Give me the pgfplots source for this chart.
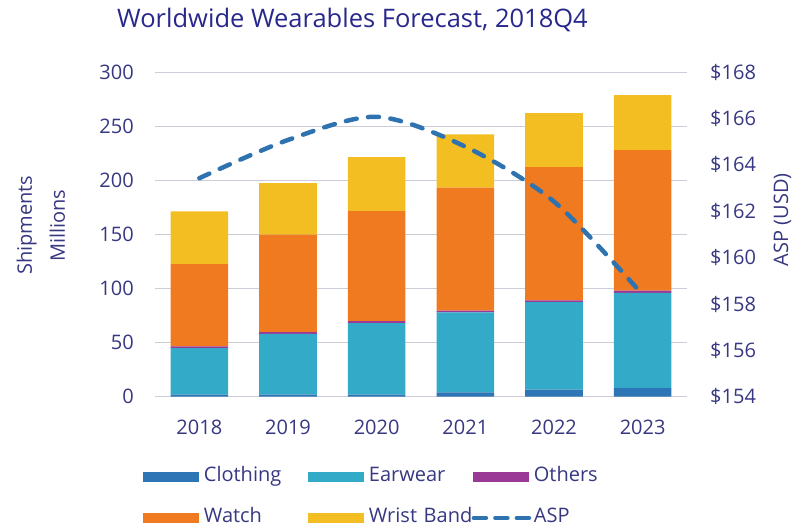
\documentclass[border=0pt]{standalone}
\usepackage{pgfplots}
\pgfplotsset{compat=1.18}
\usepackage{fontspec}
\setmainfont{Open Sans}
\definecolor{txt}{RGB}{55,55,130}
\definecolor{ttl}{RGB}{40,40,140}
\definecolor{cloth}{RGB}{46,117,182}
\definecolor{ear}{RGB}{50,170,200}
\definecolor{oth}{RGB}{155,58,150}
\definecolor{watch}{RGB}{240,122,32}
\definecolor{wrist}{RGB}{242,190,34}
\definecolor{asp}{RGB}{46,115,175}
\definecolor{grd}{RGB}{205,205,215}
\newcommand{\lbl}{\fontsize{20bp}{24bp}\selectfont}
\begin{document}
\begin{tikzpicture}
\useasboundingbox (-155bp,-134.3bp) rectangle (637bp,396.7bp);
\begin{axis}[
  at={(0,0)}, anchor=south west,
  scale only axis, width=532bp, height=324.4bp,
  xmin=-0.5, xmax=5.5, ymin=0, ymax=300,
  ybar stacked, bar width=0.65,
  xtick={0,...,5}, xticklabels={2018,2019,2020,2021,2022,2023},
  ytick={0,50,...,300},
  major tick length=0pt,
  axis line style={draw=none},
  ymajorgrids, grid style={grd, line width=1.2bp},
  tick label style={font=\lbl, text=txt},
  /pgf/number format/assume math mode=true,
  xticklabel style={anchor=base, yshift=-38bp},
  yticklabel style={anchor=east, inner xsep=0pt, xshift=-21bp},
  legend columns=3,
  legend cell align=left,
  legend style={draw=none, fill=none,
    at={(axis description cs:-0.0231,-0.3107)}, anchor=west,
    inner sep=0pt, row sep=21bp, font=\lbl, text=txt,
    nodes={inner sep=0pt, text width=104bp, align=left, text height=15bp, text depth=5bp, text=txt},
    /tikz/every odd column/.append style={column sep=5bp}},
  legend image code/.code={\fill[#1] (0bp,-5bp) rectangle (56bp,5bp);},
]
\addplot[fill=cloth, draw=none] coordinates {(0,2)(1,2)(2,2)(3,4)(4,6.5)(5,8)};
\addlegendentry{Clothing}
\addplot[fill=ear, draw=none] coordinates {(0,43)(1,56)(2,66)(3,74)(4,81)(5,88)};
\addlegendentry{Earwear}
\addplot[fill=oth, draw=none] coordinates {(0,1.5)(1,1.8)(2,2)(3,1.5)(4,1.5)(5,2)};
\addlegendentry{Others}
\addplot[fill=watch, draw=none] coordinates {(0,76)(1,90)(2,101.6)(3,113.8)(4,123.3)(5,130)};
\addlegendentry{Watch}
\addplot[fill=wrist, draw=none] coordinates {(0,49)(1,47.8)(2,50)(3,49.3)(4,50)(5,51)};
\addlegendentry{Wrist Band}
\addlegendimage{draw=none, fill=none, legend image code/.code={\draw[draw=asp, fill=none, line width=4.5bp, line cap=round, dash pattern=on 12bp off 9.5bp, overlay] (1bp,0) -- (56bp,0); \path[draw=none, fill=none] (0bp,-5bp) rectangle (56bp,5bp);}}
\addlegendentry{ASP}
\end{axis}
\begin{axis}[
  at={(0,0)}, anchor=south west,
  scale only axis, width=532bp, height=324.4bp,
  xmin=-0.5, xmax=5.5, ymin=154, ymax=168,
  axis y line*=right, axis x line=none,
  ytick={154,156,...,168},
  major tick length=0pt,
  axis line style={draw=none},
  /pgf/number format/assume math mode=true,
  yticklabel={\$\pgfmathprintnumber{\tick}},
  yticklabel style={anchor=west, inner xsep=0pt, xshift=23bp, font=\lbl, text=txt},
]
\addplot[asp, line width=4.5bp, line cap=round, dash pattern=on 11bp off 11.5bp, smooth]
  coordinates {(0,163.43)(1,165.08)(2,166.08)(3,164.79)(4,162.42)(5,158.4)};
\end{axis}
\node[font=\fontsize{25.5bp}{30bp}\selectfont, text=ttl, anchor=base] at (197.5bp,368.7bp) {Worldwide Wearables Forecast, 2018Q4};
\node[rotate=90, anchor=base, font=\lbl, text=txt] at (-123bp,171.5bp) {Shipments};
\node[rotate=90, anchor=base, font=\lbl, text=txt] at (-90bp,171bp) {Millions};
\node[rotate=90, anchor=base, font=\lbl, text=txt] at (633bp,177bp) {ASP (USD)};
\end{tikzpicture}
\end{document}
